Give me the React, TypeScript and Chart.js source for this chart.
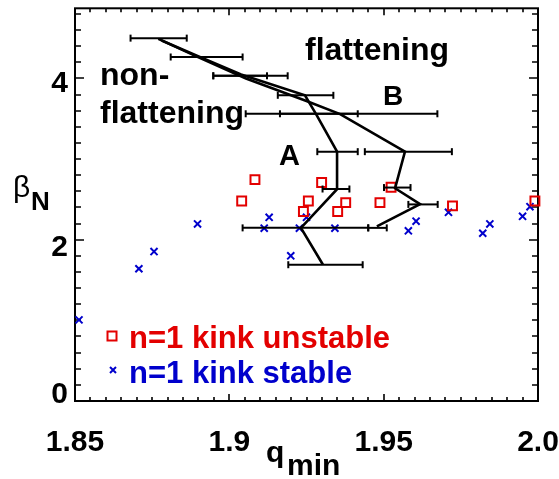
import React, { useEffect, useRef } from 'react';
import { Chart, registerables } from 'chart.js';

Chart.register(...registerables);

// ---- axis ranges and ticks ----
const X_MIN = 1.85;
const X_MAX = 2.0;
const Y_MIN = 0;
const Y_MAX = 4.87;
const xTickValues = [1.85, 1.9, 1.95, 2.0];
const xTickLabels = ['1.85', '1.9', '1.95', '2.0'];
const yTickValues = [0, 2, 4];
const yTickLabels = ['0', '2', '4'];
const yLabelShift = [-6.5, 8, 5.5];
const xMinorStep = 0.005;
const yMinorStep = 0.2;

// ---- n=1 kink unstable (red squares) ----
const unstableQ = [1.904, 1.9083, 1.9299, 1.9256, 1.924, 1.9377, 1.9351, 1.9488, 1.9524, 1.9723, 1.999];
const unstableBeta = [2.48, 2.745, 2.71, 2.48, 2.35, 2.46, 2.35, 2.46, 2.65, 2.42, 2.48];

// ---- n=1 kink stable (blue x) ----
const stableQ = [1.8513, 1.8707, 1.8756, 1.8897, 1.9113, 1.9129, 1.9227, 1.925, 1.9199, 1.9342, 1.958, 1.9605, 1.971, 1.9821, 1.9844, 1.995, 1.9974];
const stableBeta = [1.006, 1.64, 1.853, 2.196, 2.143, 2.278, 2.143, 2.278, 1.8, 2.143, 2.11, 2.23, 2.34, 2.08, 2.196, 2.29, 2.41];

// ---- curve A ----
const curveAQ = [1.8781, 1.8895, 1.9038, 1.9245, 1.9281, 1.9349, 1.9349, 1.9232, 1.9303];
const curveABeta = [4.47, 4.282, 4.049, 3.791, 3.558, 3.092, 2.626, 2.147, 1.693];

// ---- curve B ----
const curveBQ = [1.877, 1.8895, 1.9054, 1.9252, 1.9359, 1.9569, 1.9537, 1.9618, 1.9478];
const curveBBeta = [4.491, 4.27, 4.0, 3.718, 3.558, 3.092, 2.638, 2.442, 2.165];

// ---- horizontal error bars (beta, qmin low, qmin high) ----
const barBeta = [4.5, 4.266, 4.033, 4.033, 3.791, 3.562, 3.562, 3.092, 3.092, 2.629, 2.647, 2.438, 2.147, 2.147, 1.69];
const barLow = [1.868, 1.881, 1.8948, 1.8948, 1.9157, 1.9053, 1.9164, 1.9285, 1.9439, 1.9302, 1.9501, 1.958, 1.9043, 1.945, 1.9191];
const barHigh = [1.8862, 1.9043, 1.9122, 1.9189, 1.9337, 1.9674, 1.9416, 1.9416, 1.9721, 1.9389, 1.9587, 1.9675, 1.945, 1.951, 1.9432];

// ---- text ----
const legendLabels = ['n=1 kink unstable', 'n=1 kink stable'];
const annotationTexts = ['flattening', 'non-', 'flattening', 'B', 'A'];

const RED = '#e30000';
const BLUE = '#0000cc';
const FONT = "'Liberation Sans', Arial, Helvetica, sans-serif";

const zip = (xs: number[], ys: number[]) => xs.map((x, i) => ({ x, y: ys[i] }));

const decorPlugin = {
  id: 'decor',
  beforeDatasetsDraw(chart: any) {
    const { ctx, chartArea: a, scales } = chart;
    const xs = scales.x;
    const ys = scales.y;
    ctx.save();
    ctx.strokeStyle = '#000';
    ctx.lineWidth = 1.6;
    ctx.beginPath();
    const nx = Math.round((X_MAX - X_MIN) / xMinorStep);
    for (let i = 0; i <= nx; i++) {
      const px = Math.round(xs.getPixelForValue(X_MIN + i * xMinorStep));
      const len = i % 10 === 0 ? 7 : 4;
      ctx.moveTo(px, a.bottom);
      ctx.lineTo(px, a.bottom - len);
      ctx.moveTo(px, a.top);
      ctx.lineTo(px, a.top + len);
    }
    const ny = Math.floor((Y_MAX - Y_MIN) / yMinorStep + 1e-6);
    for (let i = 0; i <= ny; i++) {
      const py = Math.round(ys.getPixelForValue(Y_MIN + i * yMinorStep));
      const len = i % 10 === 0 ? 9 : 6;
      ctx.moveTo(a.left, py);
      ctx.lineTo(a.left + len, py);
      ctx.moveTo(a.right, py);
      ctx.lineTo(a.right - len, py);
    }
    ctx.stroke();
    ctx.lineWidth = 2;
    ctx.strokeRect(a.left, a.top, a.right - a.left, a.bottom - a.top);
    ctx.restore();
  },
  afterDraw(chart: any) {
    const { ctx, chartArea: a, scales } = chart;
    ctx.save();

    // y tick labels
    ctx.fillStyle = '#000';
    ctx.font = `bold 30px ${FONT}`;
    ctx.textAlign = 'right';
    ctx.textBaseline = 'middle';
    yTickValues.forEach((v, i) => {
      ctx.fillText(yTickLabels[i], a.left - 7, scales.y.getPixelForValue(v) + yLabelShift[i]);
    });

    ctx.textBaseline = 'alphabetic';
    ctx.textAlign = 'left';

    // annotations
    ctx.font = `bold 32px ${FONT}`;
    ctx.fillText(annotationTexts[0], 305, 60);
    ctx.fillText(annotationTexts[1], 100, 85);
    ctx.fillText(annotationTexts[2], 100, 123);
    ctx.font = `bold 28px ${FONT}`;
    ctx.fillText(annotationTexts[3], 383, 105);
    ctx.font = `bold 29px ${FONT}`;
    ctx.fillText(annotationTexts[4], 279, 165);

    // axis titles
    ctx.font = `30px ${FONT}`;
    ctx.fillText('β', 13, 197);
    ctx.font = `bold 26px ${FONT}`;
    ctx.fillText('N', 31, 210);
    ctx.font = `bold 30px ${FONT}`;
    ctx.fillText('q', 266, 462);
    ctx.fillText('min', 287, 475);

    // legend
    ctx.lineWidth = 2;
    ctx.strokeStyle = RED;
    ctx.strokeRect(107.5, 331.5, 9, 9);
    ctx.strokeStyle = BLUE;
    ctx.beginPath();
    ctx.moveTo(110, 367); ctx.lineTo(116, 373);
    ctx.moveTo(116, 367); ctx.lineTo(110, 373);
    ctx.stroke();
    ctx.font = `bold 31px ${FONT}`;
    ctx.fillStyle = RED;
    ctx.fillText(legendLabels[0], 129, 348);
    ctx.fillStyle = BLUE;
    ctx.fillText(legendLabels[1], 129, 383);
    ctx.restore();
  },
};

export default function App() {
  const canvasRef = useRef<HTMLCanvasElement | null>(null);

  useEffect(() => {
    const canvas = canvasRef.current;
    if (!canvas) return;

    const barSets = barBeta.map((b, i) => ({
      label: `bar${i}`,
      data: [{ x: barLow[i], y: b }, { x: barHigh[i], y: b }],
      showLine: true,
      borderColor: '#000',
      borderWidth: 2,
      pointStyle: 'line',
      pointRotation: 90,
      pointRadius: 3.5,
      pointBorderWidth: 2,
      pointBorderColor: '#000',
      pointHoverRadius: 3.5,
      clip: false,
    }));

    const chart = new Chart(canvas, {
      type: 'scatter',
      data: {
        datasets: [
          ...barSets,
          {
            label: 'A',
            data: zip(curveAQ, curveABeta),
            showLine: true,
            borderColor: '#000',
            borderWidth: 2.6,
            pointRadius: 0,
            tension: 0,
          },
          {
            label: 'B',
            data: zip(curveBQ, curveBBeta),
            showLine: true,
            borderColor: '#000',
            borderWidth: 2.6,
            pointRadius: 0,
            tension: 0,
          },
          {
            label: legendLabels[0],
            data: zip(unstableQ, unstableBeta),
            pointStyle: 'rect',
            pointRadius: 6.3,
            borderWidth: 2,
            borderColor: RED,
            backgroundColor: 'rgba(0,0,0,0)',
            clip: false,
          },
          {
            label: legendLabels[1],
            data: zip(stableQ, stableBeta),
            pointStyle: 'crossRot',
            pointRadius: 5,
            borderWidth: 2,
            borderColor: BLUE,
            backgroundColor: BLUE,
            clip: false,
          },
        ],
      } as any,
      options: {
        animation: false,
        responsive: false,
        devicePixelRatio: 1,
        events: [],
        layout: { padding: { top: 5, right: 21, left: 0, bottom: 0 } },
        plugins: {
          legend: { display: false },
          tooltip: { enabled: false },
          title: { display: false },
        },
        scales: {
          x: {
            type: 'linear',
            min: X_MIN,
            max: X_MAX,
            grid: { display: false, drawTicks: false },
            border: { display: false },
            afterBuildTicks: (s: any) => {
              s.ticks = xTickValues.map((v) => ({ value: v }));
            },
            afterFit: (s: any) => {
              s.height = 78;
              s.paddingLeft = 0;
              s.paddingRight = 0;
            },
            ticks: {
              autoSkip: false,
              maxRotation: 0,
              padding: 24,
              color: '#000',
              font: { family: FONT, size: 30, weight: 'bold' },
              callback: (v: any) => {
                const i = xTickValues.findIndex((t) => Math.abs(t - v) < 1e-9);
                return i >= 0 ? xTickLabels[i] : '';
              },
            },
          },
          y: {
            type: 'linear',
            min: Y_MIN,
            max: Y_MAX,
            grid: { display: false, drawTicks: false },
            border: { display: false },
            afterBuildTicks: (s: any) => {
              s.ticks = yTickValues.map((v) => ({ value: v }));
            },
            afterFit: (s: any) => {
              s.width = 75;
              s.paddingTop = 0;
              s.paddingBottom = 0;
            },
            ticks: { display: false },
          },
        },
      } as any,
      plugins: [decorPlugin as any],
    });

    return () => {
      chart.destroy();
    };
  }, []);

  return (
    <div style={{ position: 'absolute', left: 0, top: 0, width: 559, height: 479, background: '#fff' }}>
      <canvas ref={canvasRef} width={559} height={479} style={{ display: 'block', width: 559, height: 479 }} />
    </div>
  );
}
